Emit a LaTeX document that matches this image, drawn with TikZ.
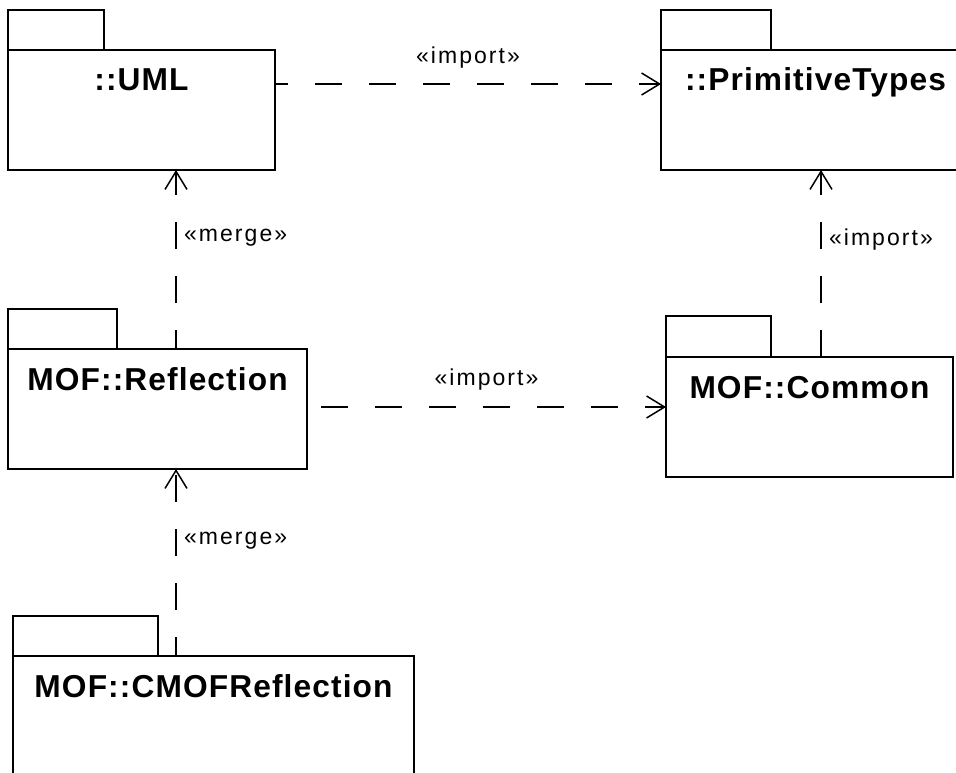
\documentclass[tikz,border=0pt]{standalone}
\usepackage{fontspec}
\setmainfont{Liberation Sans}
\newfontfamily\pkgfont[LetterSpace=3.5]{Liberation Sans}
\newfontfamily\stereofont[LetterSpace=9]{Liberation Sans}
\usetikzlibrary{arrows.meta}
\tikzset{pkgbody/.style={rectangle, draw=black, line width=2pt, inner sep=0pt, outer sep=0pt, anchor=north west},
pkgtab/.style={rectangle, draw=black, line width=2pt, inner sep=0pt, outer sep=0pt, anchor=south west, minimum height=40pt},
pkgname/.style={font=\pkgfont\bfseries\fontsize{31.7}{34}\selectfont, anchor=base, inner sep=0pt},
%dashed dependency with open head
depline/.style={line width=2pt, dash pattern=on 27pt off 27pt, -{Straight Barb[length=18pt,width=22pt,line width=1.5pt]}},
stereo/.style={font=\stereofont\fontsize{23}{26}\selectfont, inner sep=0pt}}

\begin{document}
\begin{tikzpicture}[x=1pt,y=-1pt]
\useasboundingbox (0,0) rectangle (956,773);
\clip (0,0) rectangle (956,773);

% packages
\node[pkgbody, minimum width=267pt, minimum height=120pt] (uml) at (8,50) {};
\node[pkgtab, minimum width=96pt] (umltab) at (uml.north west) {};
\node[pkgname, yshift=-41pt] (umlname) at (uml.north) {::UML};

\node[pkgbody, minimum width=309pt, minimum height=120pt] (prim) at (661,50) {};
\node[pkgtab, minimum width=110pt] (primtab) at (prim.north west) {};
\node[pkgname, yshift=-41pt] (primname) at (prim.north) {::PrimitiveTypes};

\node[pkgbody, minimum width=299pt, minimum height=120pt] (refl) at (8,349) {};
\node[pkgtab, minimum width=109pt] (refltab) at (refl.north west) {};
\node[pkgname, yshift=-41pt] (reflname) at (refl.north) {MOF::Reflection};

\node[pkgbody, minimum width=287pt, minimum height=120pt] (common) at (666,357) {};
\node[pkgtab, minimum width=105pt, minimum height=41pt] (commontab) at (common.north west) {};
\node[pkgname, yshift=-41pt] (commonname) at (common.north) {MOF::Common};

\node[pkgbody, minimum width=401pt, minimum height=150pt] (cmof) at (13,656) {};
\node[pkgtab, minimum width=145pt] (cmoftab) at (cmof.north west) {};
\node[pkgname, yshift=-41pt] (cmofname) at (cmof.north) {MOF::CMOFReflection};

% dependencies
\coordinate (umlout) at ([yshift=26pt]uml.east);
\draw[depline, dash phase=14pt] (umlout) -- (umlout -| prim.west)
     node[stereo, midway, anchor=base, yshift=20pt] (umlimp) {«import»};

\coordinate (reflup) at ([xshift=18.5pt]refl.north);
\draw[depline, dash phase=8pt] (reflup) -- (reflup |- uml.south)
     node[stereo, midway, anchor=base west, xshift=7pt, yshift=18pt] (reflmerge) {«merge»};

\coordinate (commonup) at ([xshift=11.5pt]common.north);
\draw[depline] (commonup) -- (commonup |- prim.south)
     node[stereo, midway, anchor=base west, xshift=7pt, yshift=18pt] (commonimp) {«import»};

\coordinate (reflout) at ([yshift=2pt]refl.east);
\draw[depline, dash phase=40pt] (reflout) -- (reflout -| common.west)
     node[stereo, midway, anchor=base, yshift=22pt] (reflimp) {«import»};

\coordinate (cmofup) at ([xshift=-37.5pt]cmof.north);
\draw[depline, dash phase=8pt] (cmofup) -- (cmofup |- refl.south)
     node[stereo, midway, anchor=base west, xshift=7pt, yshift=18pt] (cmofmerge) {«merge»};

\end{tikzpicture}
\end{document}
